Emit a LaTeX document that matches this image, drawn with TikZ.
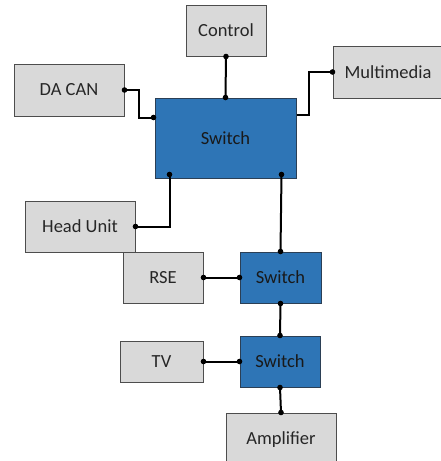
\documentclass[tikz,border=0pt]{standalone}
\usepackage{fontspec}
\setmainfont{Carlito}
\usetikzlibrary{calc}
\definecolor{boxgrey}{HTML}{D9D9D9}
\definecolor{boxedge}{HTML}{4D4D4D}
\definecolor{swblue}{HTML}{2E75B6}
\definecolor{swedge}{HTML}{2B3F55}
\tikzset{
  gbox/.style={draw=boxedge, line width=1pt, fill=boxgrey, inner sep=0pt,
    font=\fontsize{18.5}{20}\selectfont, text=black!85},
  sbox/.style={draw=swedge, line width=1pt, fill=swblue, inner sep=0pt,
    font=\fontsize{18.5}{20}\selectfont, text=black!90},
  wire/.style={line width=2pt, black, line join=miter},
  jdot/.style={fill=black}
}
\begin{document}
\begin{tikzpicture}[x=1pt,y=-1pt]
\useasboundingbox (0,0) rectangle (441,461);
\clip (0,0) rectangle (441,461);
\fill[white] (0,0) rectangle (441,461);

% devices
\node[gbox, minimum width=80pt, minimum height=51pt] (ctrl) at (226,30.5) {Control};
\node[gbox, minimum width=110pt, minimum height=52pt] (dacan) at (69,90) {DA CAN};
\node[gbox, minimum width=110pt, minimum height=52pt] (mm) at (388,72) {Multimedia};
\node[gbox, minimum width=110pt, minimum height=51pt] (hu) at (80,226.5) {Head Unit};
\node[gbox, minimum width=80pt, minimum height=51pt] (rse) at (163,277.5) {RSE};
\node[gbox, minimum width=83pt, minimum height=41pt] (tv) at (161.5,361.5) {TV};
\node[gbox, minimum width=110pt, minimum height=54pt] (amp) at (281,440) {Amplifier};

% switches
\node[sbox, minimum width=141pt, minimum height=80pt] (sw1) at (225.5,138) {Switch};
\node[sbox, minimum width=81pt, minimum height=51pt] (sw2) at (280.5,277.5) {Switch};
\node[sbox, minimum width=80pt, minimum height=51pt] (sw3) at (280,361.5) {Switch};

% junction points on the main switch
\coordinate (sw1da) at ($(sw1.north west)+(-1,20)$);
\coordinate (sw1mm) at ($(sw1.north east)+(0,17)$);
\coordinate (sw1hu) at ($(sw1.south west)+(15,-4)$);
\coordinate (sw1s2) at ($(sw1.south east)+(-15,-4)$);

% connectors
\draw[wire] (ctrl.south) -- (sw1.north);
\draw[wire] (dacan.east) -- ++(14,0) |- (sw1da);
\draw[wire] (sw1mm) -- ++(12,0) |- (mm.west);
\draw[wire] (sw1hu) |- (hu.east);
\draw[wire] (sw1s2) -- (sw2.north);
\draw[wire] (rse.east) -- (sw2.west);
\draw[wire] (sw2.south) -- (sw3.north);
\draw[wire] (tv.east) -- (sw3.west);
\draw[wire] (sw3.south) -- (amp.north);

% connection dots
\foreach \p in {ctrl.south, sw1.north, dacan.east, sw1da, mm.west, sw1hu, hu.east,
  sw1s2, sw2.north, rse.east, sw2.west, sw2.south, sw3.north, tv.east, sw3.west,
  sw3.south, amp.north}
  \fill[jdot] (\p) circle (2.8pt);
\end{tikzpicture}
\end{document}
